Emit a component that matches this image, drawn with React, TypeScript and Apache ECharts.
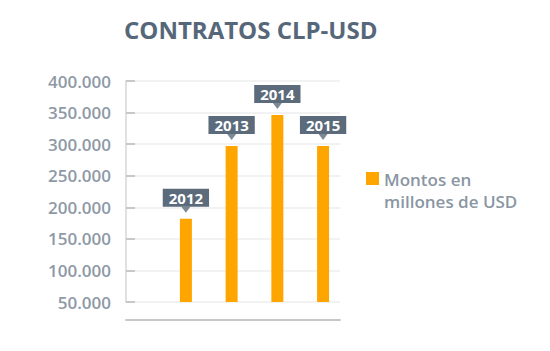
import React, { useEffect, useRef } from "react";
import * as echarts from "echarts";

const years = [2012, 2013, 2014, 2015];
const montos = [182000, 297000, 346000, 297000];
const titleText = "CONTRATOS CLP-USD";
const seriesName = "Montos en\nmillones de USD";

const fmt = (v: number) => String(v).replace(/\B(?=(\d{3})+(?!\d))/g, ".");

export default function App() {
  const ref = useRef<HTMLDivElement>(null);
  useEffect(() => {
    if (!ref.current) return;
    const chart = echarts.init(ref.current, undefined, { renderer: "svg" });
    const pts = years.map((y, i) => [y, montos[i]]);
    chart.setOption({
      animation: false,
      backgroundColor: "#ffffff",
      title: {
        text: titleText,
        left: 119,
        top: 12,
        textStyle: {
          fontFamily: "Open Sans",
          fontWeight: "bold",
          fontSize: 24,
          color: "#56677a",
        },
      },
      legend: {
        left: 361,
        top: 163,
        orient: "vertical",
        itemWidth: 13,
        itemHeight: 44,
        itemGap: 11,
        icon: "path://M0,4L13,4L13,17L0,17Z M0,0L0.01,0L0,0.01Z M0,44L0.01,44L0,43.99Z",
        data: [seriesName],
        textStyle: {
          fontFamily: "Open Sans",
          fontWeight: 600,
          fontSize: 17,
          lineHeight: 22,
          color: "#8a96a3",
        },
      },
      grid: { left: 126, right: 210, top: 81, bottom: 49 },
      xAxis: {
        type: "value",
        min: 2010.69,
        max: 2015.37,
        offset: 18,
        axisLabel: { show: false },
        axisTick: { show: false },
        splitLine: { show: false },
        axisLine: { show: true, onZero: false, lineStyle: { color: "#c8c8c8", width: 2 } },
      },
      yAxis: {
        type: "value",
        min: 50000,
        max: 400000,
        interval: 50000,
        axisLine: { show: true, lineStyle: { color: "#e0e0e0", width: 2 } },
        axisTick: { show: true, inside: true, length: 9, lineStyle: { color: "#c8c8c8", width: 2 } },
        splitLine: { show: true, lineStyle: { color: "#f2f2f2", width: 2 } },
        axisLabel: {
          margin: 15,
          formatter: (v: number) => fmt(v),
          fontFamily: "Open Sans",
          fontWeight: 600,
          fontSize: 17,
          color: "#8e99a6",
        },
      },
      series: [
        {
          name: seriesName,
          type: "bar",
          barWidth: 12,
          data: pts,
          itemStyle: { color: "#ffa500" },
          label: {
            show: true,
            position: "top",
            distance: 12,
            formatter: (p: any) => String(p.value[0]),
            backgroundColor: "#5b6b7b",
            color: "#ffffff",
            fontFamily: "Open Sans",
            fontWeight: "bold",
            fontSize: 15,
            lineHeight: 14,
            padding: [2, 6],
          },
        },
        {
          name: "pointer",
          type: "scatter",
          data: pts,
          symbol: "triangle",
          symbolRotate: 180,
          symbolSize: [9, 6],
          symbolOffset: [0, -9],
          itemStyle: { color: "#5b6b7b" },
          z: 5,
          silent: true,
        },
      ],
    });
    return () => chart.dispose();
  }, []);
  return <div ref={ref} style={{ width: 550, height: 351, position: "absolute", left: 0, top: 0 }} />;
}
